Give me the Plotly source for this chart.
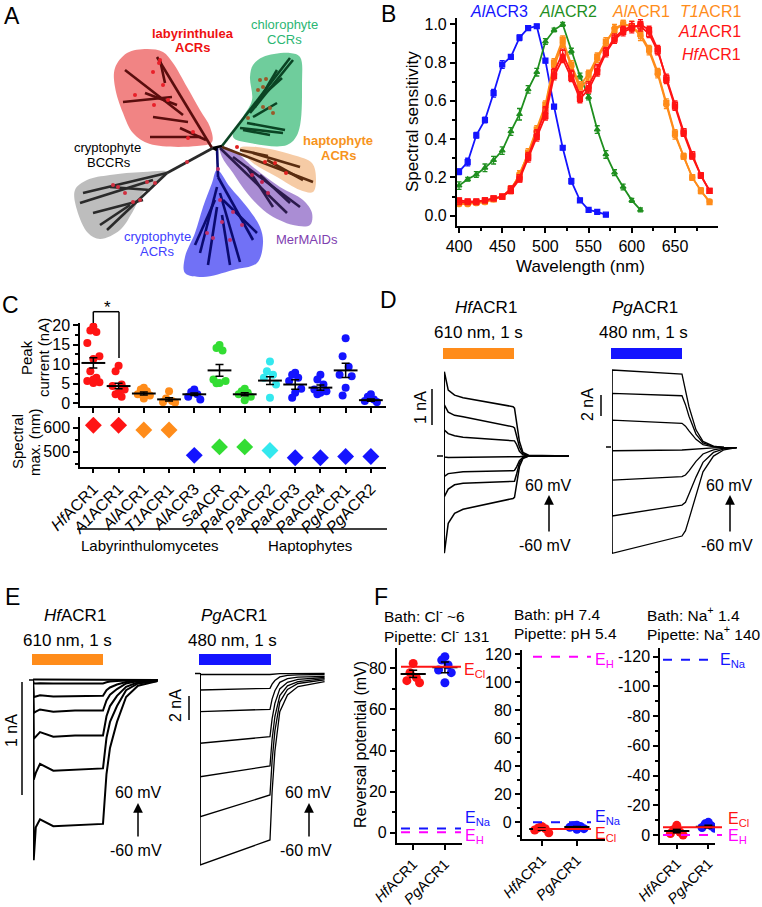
import plotly.graph_objects as go

W, H = 762, 907
FONT = "Liberation Sans"

RED = "#ff1414"
ORANGE = "#ff8c1a"
BLUE = "#1414ff"
GREEN_B = "#1f8f1f"
GREEN_C = "#33dd33"
CYAN = "#33e8ee"
MAGENTA = "#ff00ff"

# ===================== DATA =====================
# ---- Panel B: spectral sensitivity ----
b_wl = [400, 410, 420, 430, 440, 450, 460, 470, 480, 490, 500, 510, 520, 530, 540,
        550, 560, 570, 580, 590, 600, 610, 620, 630, 640, 650, 660, 670, 680, 690]
b_wl_alacr3 = [400, 410, 420, 430, 440, 450, 460, 470, 480, 490, 500, 510, 520, 530,
               540, 550, 560, 570]
b_alacr3 = [0.23, 0.28, 0.42, 0.50, 0.64, 0.79, 0.83, 0.93, 0.98, 0.99, 0.81, 0.57,
            0.355, 0.18, 0.08, 0.03, 0.02, 0.005]
b_alacr3_err = [0.015, 0.02, 0.015, 0.015, 0.02, 0.02, 0.01, 0.015, 0.01, 0.01, 0.01,
                0.01, 0.01, 0.015, 0.01, 0.005, 0.005, 0.005]
b_wl_alacr2 = [400, 410, 420, 430, 440, 450, 460, 470, 480, 490, 500, 510, 520, 530,
               540, 550, 560, 570, 580, 590, 600, 610]
b_alacr2 = [0.157, 0.19, 0.215, 0.25, 0.29, 0.34, 0.44, 0.53, 0.66, 0.75, 0.91, 0.97,
            1.0, 0.86, 0.73, 0.62, 0.45, 0.32, 0.225, 0.15, 0.08, 0.03]
b_alacr2_err = [0.02, 0.01, 0.015, 0.02, 0.02, 0.02, 0.02, 0.03, 0.02, 0.02, 0.015,
                0.01, 0.01, 0.015, 0.015, 0.015, 0.02, 0.02, 0.015, 0.015, 0.01, 0.01]
b_alacr1 = [0.065, 0.065, 0.07, 0.075, 0.085, 0.10, 0.14, 0.21, 0.33, 0.45, 0.58, 0.80,
            0.92, 0.79, 0.68, 0.74, 0.83, 0.91, 0.97, 1.0, 0.99, 0.95, 0.87, 0.75, 0.59,
            0.43, 0.31, 0.20, 0.13, 0.07]
b_t1acr1 = [0.06, 0.06, 0.065, 0.07, 0.085, 0.10, 0.13, 0.22, 0.32, 0.44, 0.57, 0.78,
            0.90, 0.78, 0.66, 0.72, 0.82, 0.90, 0.98, 1.0, 0.99, 0.94, 0.86, 0.74, 0.58,
            0.42, 0.31, 0.20, 0.13, 0.075]
b_a1acr1 = [0.08, 0.075, 0.075, 0.08, 0.09, 0.10, 0.13, 0.19, 0.30, 0.41, 0.52, 0.73,
            0.82, 0.72, 0.61, 0.66, 0.75, 0.85, 0.92, 0.96, 0.98, 1.0, 0.97, 0.87, 0.71,
            0.57, 0.43, 0.31, 0.21, 0.13]
b_hfacr1 = [0.07, 0.07, 0.07, 0.08, 0.09, 0.10, 0.14, 0.20, 0.31, 0.43, 0.55, 0.75,
            0.85, 0.74, 0.63, 0.68, 0.77, 0.86, 0.93, 0.97, 0.99, 0.99, 0.95, 0.86, 0.72,
            0.58, 0.44, 0.32, 0.21, 0.13]
b_long_err = [0.01, 0.01, 0.01, 0.01, 0.01, 0.01, 0.015, 0.015, 0.02, 0.02, 0.02, 0.02,
              0.02, 0.02, 0.02, 0.02, 0.02, 0.02, 0.02, 0.02, 0.025, 0.025, 0.02, 0.02,
              0.02, 0.02, 0.015, 0.015, 0.015, 0.01]
b_xticks = [400, 450, 500, 550, 600, 650]
b_yticks = [0.0, 0.2, 0.4, 0.6, 0.8, 1.0]

# ---- Panel C: peak currents and spectral maxima ----
c_names = ["<i>Hf</i>ACR1", "<i>A1</i>ACR1", "<i>Al</i>ACR1", "<i>T1</i>ACR1",
           "<i>Al</i>ACR3", "<i>Sa</i>ACR", "<i>Pa</i>ACR1", "<i>Pa</i>ACR2",
           "<i>Pa</i>ACR3", "<i>Pa</i>ACR4", "<i>Pg</i>ACR1", "<i>Pg</i>ACR2"]
c_colors = [RED, RED, ORANGE, ORANGE, BLUE, GREEN_C, GREEN_C, CYAN, BLUE, BLUE, BLUE, BLUE]
c_peak_points = [
    [19.6, 18.6, 18.2, 15.4, 12.0, 11.3, 8.2, 6.5, 6.1, 5.7, 5.4, 5.2],
    [9.6, 8.2, 4.8, 4.4, 3.5, 2.7, 2.3, 1.7],
    [4.0, 3.5, 3.1, 2.3, 2.0, 1.2],
    [3.1, 1.2, 0.6, 0.3, 0.2],
    [3.5, 2.9, 2.3, 1.7, 1.0],
    [14.9, 14.1, 13.5, 6.1, 5.7, 5.2, 5.1],
    [3.7, 3.1, 2.7, 2.3, 1.7, 0.8],
    [10.7, 8.2, 7.3, 6.5, 4.8, 1.4],
    [7.8, 7.3, 6.5, 5.7, 3.7, 2.7, 1.4],
    [7.3, 6.1, 4.8, 3.5, 3.1, 2.7, 2.3],
    [16.6, 12.0, 9.3, 7.3, 6.9, 4.0, 2.0],
    [2.3, 1.7, 1.0, 0.6, 0.3],
]
c_peak_mean = [10.3, 4.4, 2.5, 1.0, 2.3, 8.4, 2.3, 5.8, 4.8, 4.0, 8.4, 0.8]
c_peak_sem = [1.3, 0.7, 0.4, 0.4, 0.3, 1.5, 0.4, 1.0, 1.2, 0.7, 1.8, 0.3]
c_spec_max = [610, 610, 590, 590, 485, 520, 520, 505, 475, 475, 480, 480]

# ---- Panel D: photocurrents (nA) vs time (s), holding -60..60 mV ----
d_hf_t = [0, 0.005, 0.06, 0.15, 0.27, 0.98, 1.0, 1.03, 1.07, 1.12, 1.2, 1.77]
d_hf_traces = [
    [0, 2.34, 1.83, 1.69, 1.62, 1.37, 1.33, 0.95, 0.40, 0.10, 0.02, 0],
    [0, 1.42, 1.22, 1.13, 1.09, 0.81, 0.78, 0.58, 0.25, 0.06, 0.01, 0],
    [0, 0.72, 0.62, 0.56, 0.52, 0.44, 0.42, 0.32, 0.13, 0.03, 0, 0],
    [0, -0.03, -0.04, -0.04, -0.04, -0.04, -0.04, -0.03, -0.02, -0.01, 0, 0],
    [0, -0.57, -0.49, -0.46, -0.44, -0.41, -0.40, -0.30, -0.13, -0.03, 0, 0],
    [0, -1.13, -0.92, -0.80, -0.76, -0.71, -0.70, -0.50, -0.20, -0.05, 0, 0],
    [0, -2.70, -1.87, -1.59, -1.48, -1.18, -1.15, -0.80, -0.30, -0.07, 0, 0],
]
d_pg_t = [0, 0.003, 1.0, 1.05, 1.1, 1.2, 1.3, 1.45, 1.6, 1.78]
d_pg_traces = [
    [0, 7.40, 7.00, 5.6, 3.9, 1.7, 0.6, 0.15, 0.04, 0],
    [0, 5.17, 4.95, 4.1, 3.0, 1.3, 0.45, 0.12, 0.03, 0],
    [0, 2.63, 2.32, 2.05, 1.6, 0.8, 0.3, 0.08, 0.02, 0],
    [0, -0.29, -0.22, -0.2, -0.15, -0.08, -0.03, -0.01, 0, 0],
    [0, -3.08, -2.76, -2.6, -2.2, -1.3, -0.6, -0.2, -0.05, 0],
    [0, -6.50, -5.46, -5.2, -4.4, -2.8, -1.4, -0.45, -0.12, 0],
    [0, -10.06, -8.41, -7.9, -6.8, -4.5, -2.3, -0.8, -0.2, 0],
]

# ---- Panel E: photocurrents with low bath Cl- ----
e_hf_t = [0, 0.01, 0.04, 0.1, 0.29, 0.6, 1.0, 1.05, 1.1, 1.2, 1.33, 1.5, 1.78]
e_hf_traces = [
    [0, 0.005, 0.005, 0.005, 0.005, 0.005, 0.005, 0.004, 0.003, 0.002, 0, 0, 0],
    [0, -0.03, -0.03, -0.028, -0.03, -0.03, -0.03, -0.02, -0.014, -0.009, -0.004, 0, 0],
    [0, -0.15, -0.145, -0.135, -0.145, -0.14, -0.14, -0.09, -0.066, -0.04, -0.017, -0.006, 0],
    [0, -0.29, -0.28, -0.26, -0.28, -0.27, -0.27, -0.18, -0.13, -0.08, -0.03, -0.01, 0],
    [0, -0.52, -0.50, -0.46, -0.50, -0.49, -0.49, -0.32, -0.23, -0.14, -0.06, -0.02, 0],
    [0, -0.88, -0.82, -0.74, -0.80, -0.79, -0.78, -0.51, -0.37, -0.23, -0.09, -0.03, -0.01],
    [0, -1.59, -1.30, -1.23, -1.29, -1.28, -1.27, -0.83, -0.60, -0.37, -0.15, -0.05, -0.01],
]
e_pg_t = [0, 0.003, 1.0, 1.03, 1.07, 1.14, 1.25, 1.4, 1.78]
e_pg_traces = [
    [0, -0.10, -0.10, -0.08, -0.05, -0.03, -0.02, -0.01, 0],
    [0, -1.39, -1.25, -0.9, -0.6, -0.3, -0.18, -0.13, -0.10],
    [0, -3.20, -3.00, -2.15, -1.45, -0.75, -0.45, -0.32, -0.25],
    [0, -5.83, -5.28, -3.8, -2.5, -1.3, -0.75, -0.50, -0.35],
    [0, -8.62, -7.72, -5.5, -3.6, -1.85, -1.05, -0.70, -0.45],
    [0, -11.95, -10.14, -7.3, -4.8, -2.4, -1.35, -0.85, -0.55],
    [0, -15.97, -13.89, -9.9, -6.5, -3.2, -1.8, -1.10, -0.70],
]

# ---- Panel F: reversal potentials (mV) ----
f_names = ["<i>Hf</i>ACR1", "<i>Pg</i>ACR1"]
f1_hf = [82.4, 77.9, 75.5, 74.0, 73.0]
f1_pg = [85.7, 84.0, 81.6, 79.2, 77.9, 73.0]
f1_mean = [77.3, 80.5]
f1_sem = [1.8, 2.6]
f1_ecl, f1_ena, f1_eh = 80.8, 2.1, 0.2
f2_hf = [-3.0, -4.0, -4.5, -5.5, -7.5]
f2_pg = [-2.0, -2.5, -3.0, -3.5, -4.5, -5.0]
f2_mean = [-4.8, -3.4]
f2_sem = [0.8, 0.5]
f2_eh, f2_ena, f2_ecl = 118.0, 0.0, -4.75
f3_hf = [-6.5, -3.5, -2.0, -1.0, 0.0]
f3_pg = [-8.5, -7.5, -6.0, -5.0, -4.5]
f3_mean = [-2.7, -5.6]
f3_sem = [1.2, 0.9]
f3_ena, f3_ecl, f3_eh = -118.0, -5.2, 0.0

# ---- Panel A: schematic tree (layout units = px of the panel) ----
a_blob_red = [(115, 68), (127, 53), (147, 49), (163, 52), (173, 63), (187, 87), (200, 110),
              (210, 127), (212, 142), (197, 146), (150, 144), (133, 133), (123, 113), (115, 87)]
a_blob_green = [(253, 65), (263, 57), (290, 53), (300, 57), (302, 83), (298, 133), (287, 145),
                (250, 143), (233, 137), (243, 117), (252, 100), (250, 77)]
a_blob_orange = [(240, 148), (257, 147), (293, 155), (312, 163), (316, 180), (313, 192),
                 (300, 190), (277, 177), (253, 163)]
a_blob_purple = [(220, 147), (233, 150), (253, 167), (280, 187), (303, 200), (312, 213),
                 (310, 225), (293, 225), (267, 213), (247, 193), (233, 173), (222, 157)]
a_blob_blue = [(217, 170), (230, 187), (247, 207), (260, 227), (263, 243), (257, 263),
               (233, 270), (203, 277), (185, 273), (185, 257), (195, 233), (203, 207), (212, 183)]
a_blob_gray = [(168, 172), (157, 182), (143, 193), (132, 213), (120, 230), (100, 239),
               (88, 233), (77, 210), (75, 190), (87, 180), (110, 175), (143, 172)]
a_br_red = [[(212, 148), (157, 57)], [(183, 115), (125, 70)], [(172, 97), (123, 102)],
            [(188, 122), (153, 117)], [(201, 137), (150, 137)], [(165, 83), (160, 60)],
            [(177, 105), (145, 93)], [(206, 140), (180, 128)]]
a_br_green = [[(222, 146), (290, 58)], [(255, 107), (277, 70)], [(250, 113), (293, 60)],
              [(247, 123), (285, 130)], [(253, 117), (277, 103)], [(240, 128), (283, 133)],
              [(243, 130), (270, 135)], [(262, 96), (282, 78)]]
a_br_orange = [[(222, 147), (313, 182)], [(253, 153), (300, 167)], [(267, 160), (303, 180)],
               [(240, 150), (268, 156)]]
a_br_purple = [[(220, 148), (287, 213)], [(233, 157), (300, 207)], [(247, 167), (273, 207)],
               [(260, 175), (290, 203)]]
a_br_blue = [[(217, 148), (218, 177)], [(218, 177), (253, 240)], [(217, 187), (200, 253)],
             [(220, 193), (240, 262)], [(217, 207), (208, 265)], [(223, 200), (257, 233)],
             [(215, 200), (195, 245)], [(222, 215), (230, 265)]]
a_br_gray = [[(213, 148), (167, 173)], [(167, 173), (107, 230)], [(167, 173), (83, 193)],
             [(153, 180), (80, 203)], [(143, 200), (93, 213)], [(150, 190), (110, 187)],
             [(130, 205), (100, 225)]]
a_dots_red = [(159, 63), (153, 72), (163, 85), (135, 95), (154, 105), (168, 100), (193, 132),
              (188, 138), (160, 60)]
a_dots_green = [(260, 80), (263, 87), (258, 90), (270, 108), (263, 107), (273, 113), (248, 118),
                (266, 79)]
a_dots_orange = [(237, 147), (265, 162), (275, 163), (286, 173)]
a_dots_purple = [(252, 175), (262, 182), (268, 193)]
a_dots_blue = [(218, 169), (220, 200), (233, 212), (222, 222), (230, 240), (207, 233),
               (213, 238), (242, 225)]
a_dots_gray = [(187, 162), (113, 185), (118, 187), (125, 193), (133, 202), (140, 200),
               (147, 182), (155, 183)]


# ===================== HELPERS =====================
def dx(a, b):
    return [a / W, b / W]


def dy(top, bottom):
    return [1 - bottom / H, 1 - top / H]


def PX(x):
    return x / W


def PY(y):
    return 1 - y / H


TICKFONT = dict(family=FONT, size=16, color="black")
CATFONT_F = dict(family=FONT, size=14.5, color="black")


def data_axis(domain, rng, anchor, **kw):
    d = dict(domain=domain, range=rng, anchor=anchor, showline=True, linecolor="black",
             linewidth=1.5, ticks="outside", ticklen=5, tickwidth=1.5, tickcolor="black",
             showgrid=False, zeroline=False, tickfont=TICKFONT, fixedrange=True,
             automargin=False)
    d.update(kw)
    return d


def minor(vals):
    return dict(tickvals=vals, ticks="outside", ticklen=3, tickwidth=1.5, tickcolor="black")


def hidden_axis(domain, rng, anchor):
    return dict(domain=domain, range=rng, anchor=anchor, visible=False, showgrid=False,
                zeroline=False, fixedrange=True, automargin=False)


annotations = []
shapes = []


def txt(x, y, s, size=16, color="black", xa="center", ya="middle", angle=0):
    annotations.append(dict(x=PX(x), y=PY(y), xref="paper", yref="paper", text=s,
                            showarrow=False, xanchor=xa, yanchor=ya, textangle=angle,
                            font=dict(family=FONT, size=size, color=color)))


def pline(x0, y0, x1, y1, color="black", width=1.5, dash="solid", yref="paper"):
    if yref == "paper":
        y0, y1 = PY(y0), PY(y1)
    shapes.append(dict(type="line", xref="paper", yref=yref, x0=PX(x0), x1=PX(x1),
                       y0=y0, y1=y1, line=dict(color=color, width=width, dash=dash),
                       layer="above"))


def prect(x0, y0, x1, y1, color):
    shapes.append(dict(type="rect", xref="paper", yref="paper", x0=PX(x0), x1=PX(x1),
                       y0=PY(y1), y1=PY(y0), fillcolor=color, line=dict(width=0)))


def arrow(x, ytip, ytail):
    annotations.append(dict(x=PX(x), y=PY(ytip), ax=0, ay=ytail - ytip, xref="paper",
                            yref="paper", axref="pixel", ayref="pixel", text="",
                            showarrow=True, arrowhead=2, arrowsize=1.3, arrowwidth=1.5,
                            arrowcolor="black"))


def jitter(n, step):
    pattern = [0, -1, 1, -2, 2, 0, -1, 1, 0, -2, 2, 0]
    return [pattern[i % len(pattern)] * step for i in range(n)]


fig = go.Figure()

# ===================== PANEL A =====================
A_AX = dict(xaxis="x11", yaxis="y11")
blobs = [(a_blob_red, "rgba(238,110,110,0.85)"), (a_blob_green, "rgba(95,200,145,0.9)"),
         (a_blob_orange, "rgba(245,200,160,0.95)"), (a_blob_purple, "rgba(165,135,210,0.95)"),
         (a_blob_blue, "rgba(105,105,245,0.95)"), (a_blob_gray, "rgba(185,185,185,0.95)")]
for pts, col in blobs:
    xs = [p[0] for p in pts] + [pts[0][0]]
    ys = [p[1] for p in pts] + [pts[0][1]]
    fig.add_trace(go.Scatter(x=xs, y=ys, mode="lines", fill="toself", fillcolor=col,
                             line=dict(width=0, shape="spline", smoothing=1.0),
                             hoverinfo="skip", **A_AX))
branches = [(a_br_red, "#5a0d0d"), (a_br_green, "#0b4424"), (a_br_orange, "#5a2c10"),
            (a_br_purple, "#2b1a4c"), (a_br_blue, "#0b0b70"), (a_br_gray, "#2a2a2a")]
for segs, col in branches:
    xs, ys = [], []
    for s in segs:
        xs += [s[0][0], s[1][0], None]
        ys += [s[0][1], s[1][1], None]
    fig.add_trace(go.Scatter(x=xs, y=ys, mode="lines", line=dict(color=col, width=2.6),
                             hoverinfo="skip", **A_AX))
dots = [(a_dots_red, "#e8202a"), (a_dots_green, "#9a5a2a"), (a_dots_orange, "#e02020"),
        (a_dots_purple, "#c02050"), (a_dots_blue, "#c0306a"), (a_dots_gray, "#d03040")]
for pts, col in dots:
    fig.add_trace(go.Scatter(x=[p[0] for p in pts], y=[p[1] for p in pts], mode="markers",
                             marker=dict(color=col, size=4), hoverinfo="skip", **A_AX))
fig.add_trace(go.Scatter(x=[213, 222, None, 213, 217], y=[148, 146, None, 148, 150],
                         mode="lines", line=dict(color="black", width=2.6), hoverinfo="skip",
                         **A_AX))

txt(193, 33, "<b>labyrinthulea</b>", 13, "#ee1111")
txt(193, 48, "<b>ACRs</b>", 13, "#ee1111")
txt(284, 24, "chlorophyte", 13, "#2bb673")
txt(284, 39, "CCRs", 13, "#2bb673")
txt(338, 140, "<b>haptophyte</b>", 13, "#f7941d")
txt(338, 155, "<b>ACRs</b>", 13, "#f7941d")
txt(107, 147, "cryptophyte", 13, "black")
txt(109, 162, "BCCRs", 13, "black")
txt(157, 237, "cryptophyte", 13, "#4040ff")
txt(157, 252, "ACRs", 13, "#4040ff")
txt(307, 239, "MerMAIDs", 13, "#8040b0")

# ===================== PANEL B =====================
b_series = [
    (b_wl_alacr3, b_alacr3, b_alacr3_err, BLUE, "square"),
    (b_wl_alacr2, b_alacr2, b_alacr2_err, GREEN_B, "triangle-up"),
    (b_wl, b_alacr1, b_long_err, ORANGE, "square"),
    (b_wl, b_t1acr1, b_long_err, ORANGE, "circle-open"),
    (b_wl, b_a1acr1, b_long_err, RED, "square"),
    (b_wl, b_hfacr1, b_long_err, RED, "square-open"),
]
for xs, ys, es, col, sym in b_series:
    fig.add_trace(go.Scatter(x=xs, y=ys, mode="lines+markers",
                             line=dict(color=col, width=1.8),
                             marker=dict(color=col, symbol=sym, size=5,
                                         line=dict(color=col, width=1.2)),
                             error_y=dict(type="data", array=es, color=col, thickness=1.3,
                                          width=2.5),
                             xaxis="x", yaxis="y", hoverinfo="skip"))
txt(468, 12, "<i>Al</i>ACR3", 16, BLUE, xa="left")
txt(537, 12, "<i>Al</i>ACR2", 16, GREEN_B, xa="left")
txt(610, 12, "<i>Al</i>ACR1", 16, ORANGE, xa="left")
txt(743, 12, "<i>T1</i>ACR1", 16, ORANGE, xa="right")
txt(743, 32, "<i>A1</i>ACR1", 16, RED, xa="right")
txt(743, 55, "<i>Hf</i>ACR1", 16, RED, xa="right")
txt(580, 267, "Wavelength (nm)", 17)
txt(412, 122, "Spectral sensitivity", 17, angle=-90)

# ===================== PANEL C =====================
for i, pts in enumerate(c_peak_points):
    offs = jitter(len(pts), 0.12)
    fig.add_trace(go.Scatter(x=[i + o for o in offs], y=pts, mode="markers",
                             marker=dict(color=c_colors[i], size=8),
                             xaxis="x2", yaxis="y2", hoverinfo="skip"))
fig.add_trace(go.Scatter(x=list(range(len(c_names))), y=c_peak_mean, mode="markers",
                         marker=dict(symbol="line-ew", size=17,
                                     line=dict(color="black", width=2)),
                         error_y=dict(type="data", array=c_peak_sem, color="black",
                                      thickness=1.5, width=4),
                         xaxis="x2", yaxis="y2", hoverinfo="skip"))
fig.add_trace(go.Scatter(x=list(range(len(c_names))), y=c_spec_max, mode="markers",
                         marker=dict(symbol="diamond", size=13, color=c_colors),
                         xaxis="x3", yaxis="y3", hoverinfo="skip"))
pline(93.3, 323, 93.3, 311.7)
pline(93.3, 311.7, 119, 311.7)
pline(119, 311.7, 119, 358)
txt(107, 307, "*", 17)
txt(27, 358, "Peak", 15, angle=-90)
txt(44, 358, "current (nA)", 15, angle=-90)
txt(17, 442, "Spectral", 15, angle=-90)
txt(34, 442, "max. (nm)", 15, angle=-90)
pline(77, 529, 223, 529, width=1.5)
pline(238, 529, 387, 529, width=1.5)
txt(150, 545, "Labyrinthulomycetes", 15)
txt(310, 545, "Haptophytes", 15)

# ===================== PANEL D =====================
for tr in d_hf_traces:
    fig.add_trace(go.Scatter(x=d_hf_t, y=tr, mode="lines", line=dict(color="black", width=1.5),
                             xaxis="x4", yaxis="y4", hoverinfo="skip"))
for tr in d_pg_traces:
    fig.add_trace(go.Scatter(x=d_pg_t, y=tr, mode="lines", line=dict(color="black", width=1.3),
                             xaxis="x5", yaxis="y5", hoverinfo="skip"))
txt(486, 307, "<i>Hf</i>ACR1", 17)
txt(478, 333, "610 nm, 1 s", 17)
prect(443, 348, 514, 359, ORANGE)
pline(432, 389, 432, 425)
txt(420, 408, "1 nA", 16, angle=-90)
pline(437, 456, 443, 456)
txt(645, 307, "<i>Pg</i>ACR1", 17)
txt(643, 333, "480 nm, 1 s", 17)
prect(611, 348, 682, 359, BLUE)
pline(601, 395, 601, 416)
txt(587, 405, "2 nA", 16, angle=-90)
pline(606, 447, 611, 447)
txt(548, 485, "60 mV", 16)
arrow(549, 495, 533)
txt(545, 545, "-60 mV", 16)
txt(729, 485, "60 mV", 16)
arrow(730, 495, 533)
txt(727, 545, "-60 mV", 16)

# ===================== PANEL E =====================
for tr in e_hf_traces:
    fig.add_trace(go.Scatter(x=e_hf_t, y=tr, mode="lines", line=dict(color="black", width=2),
                             xaxis="x6", yaxis="y6", hoverinfo="skip"))
for tr in e_pg_traces:
    fig.add_trace(go.Scatter(x=e_pg_t, y=tr, mode="lines", line=dict(color="black", width=1.3),
                             xaxis="x7", yaxis="y7", hoverinfo="skip"))
txt(75, 615, "<i>Hf</i>ACR1", 17)
txt(67, 640, "610 nm, 1 s", 17)
prect(32, 654, 103, 665, ORANGE)
pline(22, 682, 22, 795)
txt(11, 731, "1 nA", 16, angle=-90)
pline(29, 680, 33, 680)
txt(234, 615, "<i>Pg</i>ACR1", 17)
txt(232, 640, "480 nm, 1 s", 17)
prect(199, 654, 271, 665, BLUE)
pline(189, 696, 189, 720)
txt(175, 706, "2 nA", 16, angle=-90)
pline(195, 673.5, 200, 673.5)
txt(138, 792, "60 mV", 16)
arrow(138, 803, 838)
txt(136, 850, "-60 mV", 16)
txt(308, 792, "60 mV", 16)
arrow(309, 803, 838)
txt(306, 850, "-60 mV", 16)

# ===================== PANEL F =====================
f_sets = [
    ("x8", "y8", f1_hf, f1_pg, f1_mean, f1_sem),
    ("x9", "y9", f2_hf, f2_pg, f2_mean, f2_sem),
    ("x10", "y10", f3_hf, f3_pg, f3_mean, f3_sem),
]
for xa_, ya_, hf, pg, mean, sem in f_sets:
    for i, (pts, col) in enumerate([(hf, RED), (pg, BLUE)]):
        offs = jitter(len(pts), 0.1)
        fig.add_trace(go.Scatter(x=[i + o for o in offs], y=pts, mode="markers",
                                 marker=dict(color=col, size=9), xaxis=xa_, yaxis=ya_,
                                 hoverinfo="skip"))
    fig.add_trace(go.Scatter(x=[0, 1], y=mean, mode="markers",
                             marker=dict(symbol="line-ew", size=18,
                                         line=dict(color="black", width=2)),
                             error_y=dict(type="data", array=sem, color="black",
                                          thickness=1.5, width=4),
                             xaxis=xa_, yaxis=ya_, hoverinfo="skip"))

pline(401, f1_ecl, 461, f1_ecl, RED, 2, "solid", "y8")
pline(401, f1_ena, 461, f1_ena, BLUE, 2, "dash", "y8")
pline(401, f1_eh, 461, f1_eh, MAGENTA, 2, "dash", "y8")
pline(533, f2_eh, 591, f2_eh, MAGENTA, 2, "dash", "y9")
pline(533, f2_ena, 591, f2_ena, BLUE, 2, "dash", "y9")
pline(533, f2_ecl, 591, f2_ecl, RED, 2, "solid", "y9")
pline(663, f3_ena, 717, f3_ena, BLUE, 2, "dash", "y10")
pline(663, f3_ecl, 722, f3_ecl, RED, 2, "solid", "y10")
pline(663, f3_eh, 722, f3_eh, MAGENTA, 2, "dash", "y10")

txt(462, 670, "E<sub>Cl</sub>", 16, RED, xa="left")
txt(463, 818, "E<sub>Na</sub>", 16, BLUE, xa="left")
txt(463, 836, "E<sub>H</sub>", 16, MAGENTA, xa="left")
txt(593, 660, "E<sub>H</sub>", 16, MAGENTA, xa="left")
txt(593, 817, "E<sub>Na</sub>", 16, BLUE, xa="left")
txt(593, 834, "E<sub>Cl</sub>", 16, RED, xa="left")
txt(718, 660, "E<sub>Na</sub>", 16, BLUE, xa="left")
txt(726, 819, "E<sub>Cl</sub>", 16, RED, xa="left")
txt(726, 836, "E<sub>H</sub>", 16, MAGENTA, xa="left")

txt(382, 615, "Bath: Cl<sup>-</sup> ~6", 15.5, xa="left")
txt(382, 635, "Pipette: Cl<sup>-</sup> 131", 15.5, xa="left")
txt(512, 614, "Bath: pH 7.4", 15.5, xa="left")
txt(512, 633, "Pipette: pH 5.4", 15.5, xa="left")
txt(645, 614, "Bath: Na<sup>+</sup> 1.4", 15.5, xa="left")
txt(645, 633, "Pipette: Na<sup>+</sup> 140", 15.5, xa="left")
txt(360, 745, "Reversal potential (mV)", 16, angle=-90)

for L, x, y in [("A", 12, 16), ("B", 388, 14), ("C", 10, 305), ("D", 388, 300),
                ("E", 12, 597), ("F", 381, 597)]:
    txt(x, y, L, 23)

# ===================== LAYOUT =====================
layout = dict(
    template="none",
    width=W, height=H, autosize=False, margin=dict(l=0, r=0, t=0, b=0, pad=0),
    paper_bgcolor="white", plot_bgcolor="white", showlegend=False,
    font=dict(family=FONT, size=14, color="black"),
    annotations=annotations, shapes=shapes,
    xaxis=data_axis(dx(456.7, 718), [397.3, 699.8], "y", tickvals=b_xticks,
                    minor=minor([425, 475, 525, 575, 625, 675])),
    yaxis=data_axis(dy(18, 226), [-0.054, 1.033], "x", tickvals=b_yticks,
                    ticktext=["%.1f" % v for v in b_yticks],
                    minor=minor([0.1, 0.3, 0.5, 0.7, 0.9])),
    xaxis2=data_axis(dx(80, 386), [-0.53, 11.6], "y2", tickvals=list(range(12)),
                     showticklabels=False),
    yaxis2=data_axis(dy(323, 406), [-0.69, 20.5], "x2", tickvals=[0, 5, 10, 15, 20],
                     minor=minor([2.5, 7.5, 12.5, 17.5])),
    xaxis3=data_axis(dx(80, 386), [-0.53, 11.6], "y3", tickvals=list(range(12)),
                     ticktext=c_names, tickangle=-45),
    yaxis3=data_axis(dy(417, 466.7), [438, 644], "x3", tickvals=[500, 600],
                     minor=minor([450, 550])),
    xaxis4=hidden_axis(dx(444, 569), [0, 1.773], "y4"),
    yaxis4=hidden_axis(dy(300, 560), [-2.889, 4.333], "x4"),
    xaxis5=hidden_axis(dx(612, 737), [0, 1.786], "y5"),
    yaxis5=hidden_axis(dy(300, 560), [-10.695, 14.067], "x5"),
    xaxis6=hidden_axis(dx(33, 158), [0, 1.786], "y6"),
    yaxis6=hidden_axis(dy(640, 875), [-1.721, 0.353], "x6"),
    xaxis7=hidden_axis(dx(200, 325), [0, 1.786], "y7"),
    yaxis7=hidden_axis(dy(640, 875), [-16.81, 2.775], "x7"),
    xaxis8=data_axis(dx(396.7, 461.7), [-0.52, 1.53], "y8", tickvals=[0, 1],
                     ticktext=f_names, tickangle=-45, tickfont=CATFONT_F),
    yaxis8=data_axis(dy(648, 843.3), [-5.16, 89.9], "x8", tickvals=[0, 20, 40, 60, 80],
                     minor=minor([10, 30, 50, 70])),
    xaxis9=data_axis(dx(521.7, 605), [-0.57, 1.8], "y9", tickvals=[0, 1],
                     ticktext=f_names, tickangle=-45, tickfont=CATFONT_F),
    yaxis9=data_axis(dy(650, 839.3), [-12.1, 122.9], "x9",
                     tickvals=[0, 20, 40, 60, 80, 100, 120],
                     minor=minor([-10, 10, 30, 50, 70, 90, 110])),
    xaxis10=data_axis(dx(660, 715), [-0.53, 1.21], "y10", tickvals=[0, 1],
                      ticktext=f_names, tickangle=-45, tickfont=CATFONT_F),
    yaxis10=data_axis(dy(648, 842.7), [5.2, -125.9], "x10",
                      tickvals=[0, -20, -40, -60, -80, -100, -120],
                      ticktext=["0", "-20", "-40", "-60", "-80", "-100", "-120"],
                      minor=minor([-10, -30, -50, -70, -90, -110])),
    xaxis11=hidden_axis(dx(0, 380), [0, 380], "y11"),
    yaxis11=hidden_axis(dy(0, 300), [300, 0], "x11"),
)
fig.update_layout(**layout)
fig.write_html("out.html", config={"displayModeBar": False},
               post_script="document.body.style.margin='0px';"
                           "document.body.style.overflow='hidden';")
